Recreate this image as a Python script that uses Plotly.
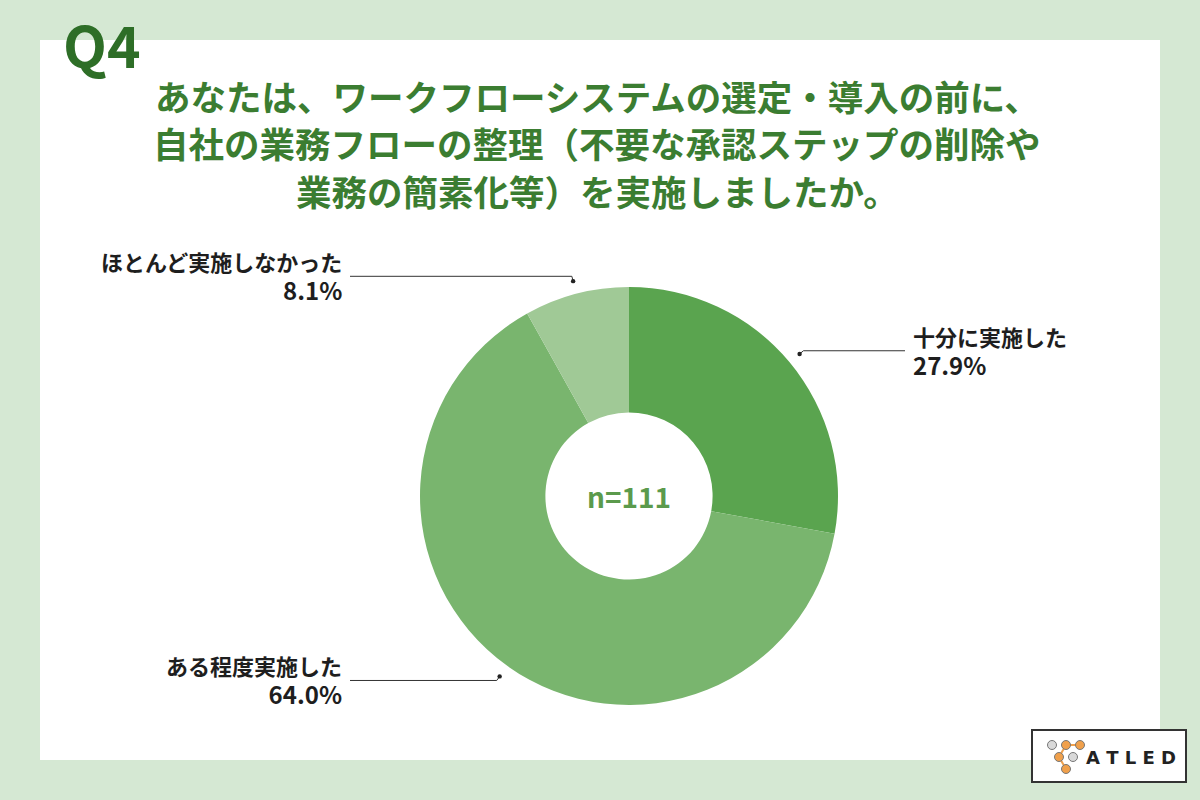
import math
import plotly.graph_objects as go

# ---- data ----
labels = ["十分に実施した", "ある程度実施した", "ほとんど実施しなかった"]
values = [27.9, 64.0, 8.1]
colors = ["#5aa44f", "#79b56e", "#a0c996"]
title_lines = [
    "あなたは、ワークフローシステムの選定・導入の前に、",
    "自社の業務フローの整理（不要な承認ステップの削除や",
    "業務の簡素化等）を実施しましたか。",
]
question = "Q4"
sample = "n=111"

W, H = 1200, 800
FONT = "Noto Sans CJK JP"


def px(x):
    return x / W


def py(y):
    return 1 - y / H


# pie geometry (pixels)
cx, cy, R = 629, 496, 209
r_dot = 222

fig = go.Figure()
fig.add_trace(go.Pie(
    labels=labels, values=values, sort=False, direction="clockwise", rotation=0,
    hole=0.40, marker=dict(colors=colors, line=dict(width=0)),
    textinfo="none", hoverinfo="label+percent", showlegend=False,
    domain=dict(x=[px(cx - R), px(cx + R)], y=[py(cy + R), py(cy - R)]),
))

shapes = []
annotations = []

# background panel
shapes.append(dict(type="rect", xref="paper", yref="paper", x0=px(40), x1=px(1160),
                   y0=py(760), y1=py(40), fillcolor="white", line=dict(width=0), layer="below"))

# title
annotations.append(dict(text=f"<b>{question}</b>", x=px(61), y=py(43), xanchor="left", yanchor="middle",
                        showarrow=False, font=dict(family=FONT, size=57, color="#2e6e27")))
for i, t in enumerate(title_lines):
    annotations.append(dict(text=f"<b>{t}</b>", x=px(597), y=py(95 + 47.5 * i), xanchor="center",
                            yanchor="middle", showarrow=False,
                            font=dict(family=FONT, size=35.5, color="#3b7d31")))

# center text
annotations.append(dict(text=f"<b>{sample}</b>", x=px(cx), y=py(cy), xanchor="center", yanchor="middle",
                        showarrow=False, font=dict(family=FONT, size=28, color="#5b9a4c")))

# leader lines + labels
total = sum(values)
cum = 0.0
for lab, v in zip(labels, values):
    th = 2 * math.pi * (cum + v / 2) / total
    cum += v
    ux, uy = math.sin(th), -math.cos(th)
    dx, dy = cx + r_dot * ux, cy + r_dot * uy
    ex, ey = cx + (r_dot + 5) * ux, cy + (r_dot + 5) * uy
    right = ux > 0
    endx = 905 if right else 350
    path = f"M {px(dx)},{py(dy)} L {px(ex)},{py(ey)} L {px(endx)},{py(ey)}"
    shapes.append(dict(type="path", xref="paper", yref="paper", path=path,
                       line=dict(color="#333333", width=1)))
    rr = 2.2
    shapes.append(dict(type="circle", xref="paper", yref="paper", x0=px(dx - rr), x1=px(dx + rr),
                       y0=py(dy + rr), y1=py(dy - rr), fillcolor="#222222", line=dict(width=0)))
    tx = 912 if right else 343
    anc = "left" if right else "right"
    annotations.append(dict(
        text=f"<b>{lab}<br><span style='font-size:24px'>{v:.1f}%</span></b>",
        x=px(tx), y=py(ey), xanchor=anc, yanchor="middle", align=anc,
        showarrow=False, yshift=0, borderpad=0,
        font=dict(family=FONT, size=22, color="#1e1e1e")))

# logo
shapes.append(dict(type="rect", xref="paper", yref="paper", x0=px(1032), x1=px(1186),
                   y0=py(782), y1=py(730), fillcolor="white", line=dict(color="#333333", width=2)))
nodes = [(1052, 745, "#d9d9d9"), (1066, 745, "#f0a04b"), (1080, 745, "#f0a04b"),
         (1059, 757, "#f0a04b"), (1073, 757, "#d9d9d9"), (1066, 769, "#f0a04b")]
for a, b in [(1, 2), (1, 3), (3, 5)]:
    x0, y0, _ = nodes[a]
    x1, y1, _ = nodes[b]
    shapes.append(dict(type="line", xref="paper", yref="paper", x0=px(x0), y0=py(y0), x1=px(x1), y1=py(y1),
                       line=dict(color="#f0a04b", width=2)))
for x, y, c in nodes:
    r = 4.5
    shapes.append(dict(type="circle", xref="paper", yref="paper", x0=px(x - r), x1=px(x + r),
                       y0=py(y + r), y1=py(y - r), fillcolor=c, line=dict(color="#777777", width=1)))
annotations.append(dict(text="<b>A T L E D</b>", x=px(1131), y=py(757), xanchor="center", yanchor="middle",
                        showarrow=False, font=dict(family="DejaVu Sans", size=18, color="#222222")))

fig.update_layout(
    width=W, height=H, margin=dict(l=0, r=0, t=0, b=0),
    paper_bgcolor="#d5e8d3", plot_bgcolor="#d5e8d3",
    shapes=shapes, annotations=annotations,
)
fig.write_html("out.html")
